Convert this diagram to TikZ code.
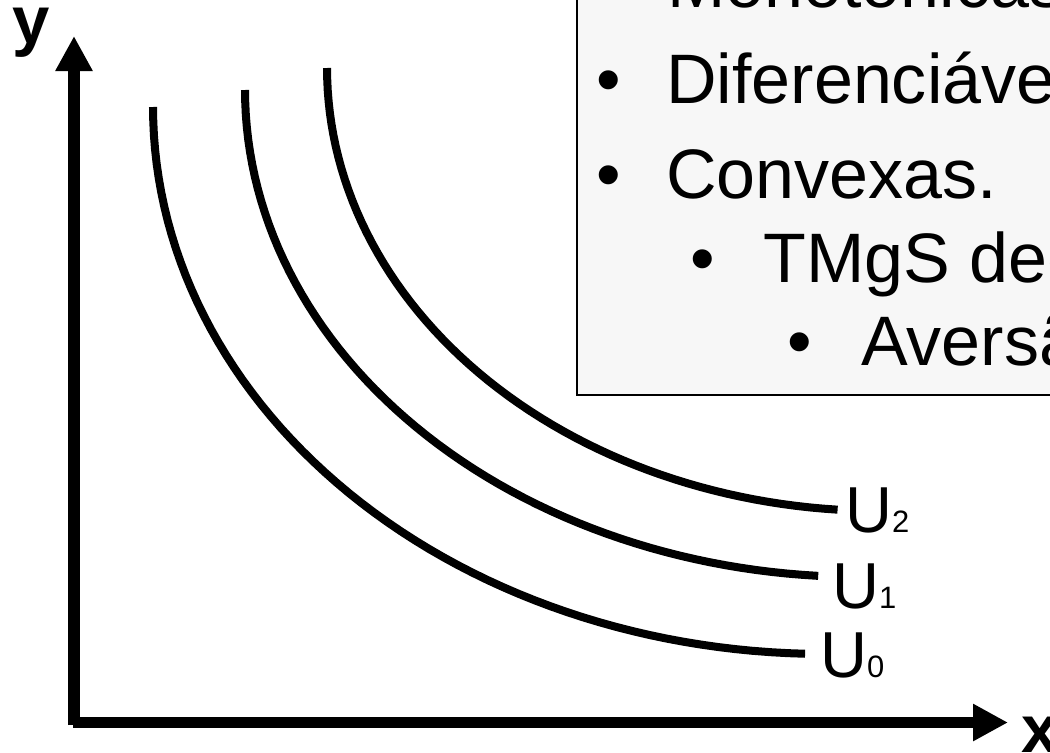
\documentclass[tikz,border=0pt]{standalone}
\usepackage{fontspec}
\setmainfont{Liberation Sans}
\usetikzlibrary{arrows.meta}

\definecolor{boxgray}{HTML}{F7F7F7}
\newcommand\itemfont{\fontsize{49.8}{50}\selectfont}
\newcommand\axisfont{\fontsize{47.7}{48}\selectfont\bfseries}
\newcommand\ufont{\fontsize{46.2}{46}\selectfont}
\newcommand\subfont{\fontsize{22}{22}\selectfont}

\begin{document}
\begin{tikzpicture}[x=0.025cm, y=-0.025cm,
  axis/.style={line width=8.5pt, -{Triangle[length=0.875cm, width=0.875cm]}},
  curve/.style={line width=5.7pt},
  txt/.style={anchor=base west, inner sep=0pt, font=\itemfont},
  blt/.style={anchor=base, inner sep=0pt, font=\itemfont},
  ulabel/.style={anchor=base west, inner sep=0pt, font=\ufont},
  axlabel/.style={anchor=base west, inner sep=0pt, font=\axisfont}]

\useasboundingbox (0,0) rectangle (1050,752);
\clip (0,0) rectangle (1050,752);

% box with the properties
\draw[fill=boxgray, line width=1.4pt] (577,-20) rectangle (1090,395);

\node[blt] (b0) at (609,7) {•};
\node[txt] (l0) at (667,7) {Monotônicas.};
\node[blt] (b1) at (609,103) {•};
\node[txt] (l1) at (666,103) {Diferenciáveis.};
\node[blt] (b2) at (609,198) {•};
\node[txt] (l2) at (666,198) {Convexas.};
\node[blt] (b3) at (703,282) {•};
\node[txt] (l3) at (763,282) {TMgS decrescente.};
\node[blt] (b4) at (800,365) {•};
\node[txt] (l4) at (861,365) {Aversão};

% axes
\coordinate (o) at (74,725);
\coordinate (ytip) at (74,36);
\coordinate (xo) at (73,722.5);
\coordinate (xtip) at (1008,722.5);
\draw[axis] (o) -- (ytip);
\draw[axis] (xo) -- (xtip);
\node[axlabel] (ylab) at (12,43) {y};
\node[axlabel] (xlab) at (1021,752) {x};

% indifference curves
\draw[curve] plot[domain=0:88.3, samples=60] ({825-672*cos(\x)},{107+547*sin(\x)});
\draw[curve] plot[domain=0:86.1, samples=60] ({860-615*cos(\x)},{90+487*sin(\x)});
\draw[curve] plot[domain=0:85.6, samples=60] ({880-553*cos(\x)},{68+443*sin(\x)});

\node[ulabel] (u0) at (820,677) {U{\subfont 0}};
\node[ulabel] (u1) at (832,608) {U{\subfont 1}};
\node[ulabel] (u2) at (845,532) {U{\subfont 2}};

\end{tikzpicture}
\end{document}
